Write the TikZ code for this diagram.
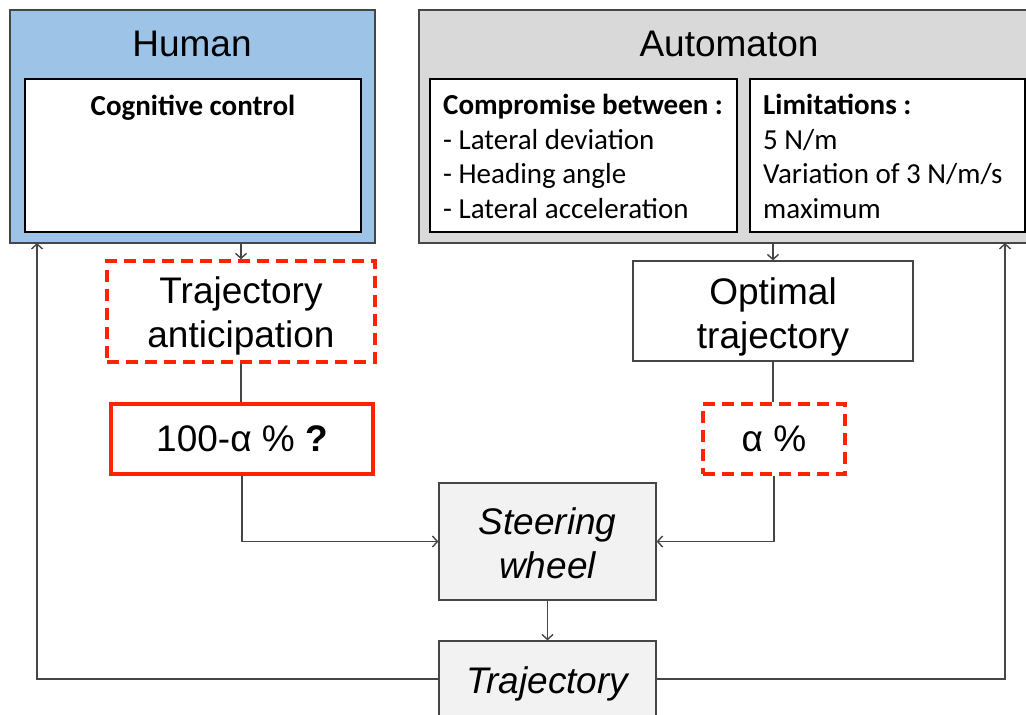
\documentclass[tikz,border=0pt]{standalone}
\usepackage{fontspec}
\setmainfont{Liberation Sans}
\newfontfamily\calfont{Carlito}
\usetikzlibrary{arrows.meta}
\definecolor{humanblue}{RGB}{157,195,230}
\definecolor{autogray}{RGB}{217,217,217}
\definecolor{boxgray}{RGB}{242,242,242}
\definecolor{hotred}{RGB}{255,35,0}
\definecolor{edgegray}{RGB}{70,70,70}
\tikzset{
  x=1pt, y=-1pt,
  big/.style={font=\fontsize{37}{44}\selectfont, align=center, inner sep=0pt},
  calbody/.style={font=\calfont\fontsize{29}{34.5}\selectfont, align=left, anchor=north west, inner sep=0pt},
  panel/.style={rectangle, draw=edgegray, line width=1.2pt, inner sep=0pt},
  inner/.style={rectangle, draw=black, line width=2pt, fill=white, inner sep=0pt},
  plainbox/.style={rectangle, draw=edgegray, line width=1.2pt, fill=white, inner sep=0pt},
  graybox/.style={rectangle, draw=edgegray, line width=1.2pt, fill=boxgray, inner sep=0pt},
  redsolid/.style={rectangle, draw=hotred, line width=4pt, fill=white, inner sep=0pt},
  reddash/.style={rectangle, draw=hotred, line width=3.5pt, dash pattern=on 12pt off 7pt, fill=white, inner sep=0pt},
  conn/.style={draw=edgegray, line width=1.2pt},
  arr/.style={conn, -{Straight Barb[length=5pt,width=11pt,line width=1.4pt]}},
}
\begin{document}
\begin{tikzpicture}
\useasboundingbox (0,0) rectangle (1026,715);
% Human panel
\node[panel, fill=humanblue, minimum width=365pt, minimum height=233pt] (human) at (192.5,126.5) {};
\node[font=\fontsize{37}{44}\selectfont, anchor=base, inner sep=0pt] (humanlbl) at (192,56) {Human};
\node[inner, minimum width=336pt, minimum height=153pt] (cog) at (193,155.5) {};
\node[font=\calfont\bfseries\fontsize{29}{34}\selectfont, anchor=base, inner sep=0pt] (cogtxt) at (193,115) {Cognitive control};
% Automaton panel
\node[panel, fill=autogray, minimum width=621pt, minimum height=233pt] (auto) at (729.5,126.5) {};
\node[font=\fontsize{37}{44}\selectfont, anchor=base, inner sep=0pt] (autolbl) at (729,56) {Automaton};
\node[inner, minimum width=307pt, minimum height=153pt] (comp) at (583.5,155.5) {};
\node[inner, minimum width=275pt, minimum height=153pt] (lim) at (887.5,155.5) {};
\node[calbody] (comptxt) at (443,94) {\textbf{Compromise between :}\\- Lateral deviation\\- Heading angle\\- Lateral acceleration};
\node[calbody] (limtxt) at (763,94) {\textbf{Limitations :}\\5 N/m\\Variation of 3 N/m/s\\maximum};
% middle boxes
\node[reddash, minimum width=268pt, minimum height=101pt] (antic) at (241,311.5) {};
\node[big] (antictxt) at ([yshift=-4pt]antic.center) {Trajectory\\anticipation};
\node[plainbox, minimum width=280pt, minimum height=100pt] (opt) at (773,311) {};
\node[big] (opttxt) at ([yshift=-6pt]opt.center) {Optimal\\trajectory};
\node[redsolid, minimum width=262pt, minimum height=70pt, big] (hundred) at (242,439) {100-α \% \textbf{?}};
\node[reddash, minimum width=142pt, minimum height=70pt, big] (alpha) at (774,439) {α \%};
\node[graybox, minimum width=217pt, minimum height=117pt] (steer) at (547.5,541.5) {};
\node[big, font=\fontsize{37}{44}\selectfont\itshape] (steertxt) at ([yshift=-2pt]steer.center) {Steering\\wheel};
\node[graybox, minimum width=217pt, minimum height=76pt] (traj) at (547.5,679) {};
\node[big, font=\fontsize{37}{44}\selectfont\itshape] (trajtxt) at ([yshift=-5pt]traj.center) {Trajectory};
% connectors
\coordinate (hin) at (37,243);
\coordinate (ain) at (1005,243);
\coordinate (hout) at (241,243);
\coordinate (aout) at (773,243);
\draw[arr] (hout) -- (antic.north);
\draw[arr] (aout) -- (opt.north);
\draw[conn] (antic.south) -- (antic.south |- hundred.north);
\draw[conn] (opt.south) -- (opt.south |- alpha.north);
\draw[arr] (hundred.south) |- (steer.west);
\draw[arr] (alpha.south) |- (steer.east);
\draw[arr] (steer.south) -- (traj.north);
\draw[arr] (traj.west) -| (hin);
\draw[arr] (traj.east) -| (ain);
\end{tikzpicture}
\end{document}
